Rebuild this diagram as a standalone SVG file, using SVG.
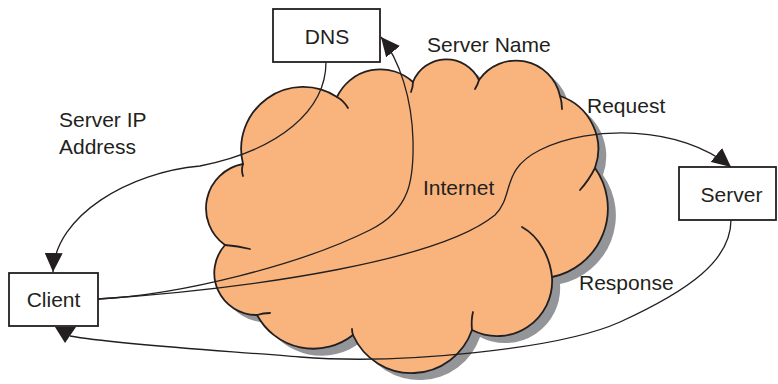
<svg xmlns="http://www.w3.org/2000/svg" width="778" height="384" viewBox="0 0 778 384">
  <style>
    .box { fill: #ffffff; stroke: #231f20; stroke-width: 1.8; }
    .txt { font-family: "Liberation Sans", Arial, sans-serif; font-size: 21px; fill: #231f20; }
    .mid { text-anchor: middle; }
    .cloud { fill: #f8b47c; stroke: #231f20; stroke-width: 1.8; stroke-linejoin: round; }
    .shadow { fill: #939598; }
    .curl { fill: none; stroke: #231f20; stroke-width: 1.8; stroke-linecap: round; }
    .link { fill: none; stroke: #231f20; stroke-width: 1.3; }
    .head { fill: #231f20; }
  </style>
  <defs>
    <marker id="arrow" markerUnits="userSpaceOnUse" markerWidth="20" markerHeight="18" refX="19" refY="9" orient="auto">
      <path d="M0,0 L19,9 L0,18 z" fill="#231f20"/>
    </marker>
    <path id="cloudShape" d="M243,164 A62,62 0 0 1 337,97 A48,48 0 0 1 413,82 A36,36 0 0 1 479,80 A45,45 0 0 1 560,96 A56,56 0 0 1 595,168 A70,70 0 0 1 552,277 A55,55 0 0 1 472,330 A64,64 0 0 1 353,335 A64,64 0 0 1 257,315 A42,42 0 0 1 225,245 A45,45 0 0 1 243,164 Z"/>
  </defs>

  <g id="internet">
    <use href="#cloudShape" class="shadow" transform="translate(8,7)"/>
    <use href="#cloudShape" class="cloud"/>
    <path class="curl" d="M243,164 Q241,170 243,176"/>
    <path class="curl" d="M337,97 Q344,101 348,108"/>
    <path class="curl" d="M413,82 Q413,87 411,92"/>
    <path class="curl" d="M479,80 Q478,84 475,89"/>
    <path class="curl" d="M560,96 Q562,102 562,109"/>
    <path class="curl" d="M595,168 Q589,180 580,190"/>
    <path class="curl" d="M552,277 C550,258 540,237 522,227"/>
    <path class="curl" d="M472,330 Q471,320 473,312"/>
    <path class="curl" d="M353,335 Q352,332 352,329"/>
    <path class="curl" d="M257,315 Q263,313 270,313"/>
    <path class="curl" d="M225,245 Q238,246 250,249"/>
    <text class="txt" x="423" y="195">Internet</text>
  </g>

  <g id="dns">
    <rect class="box" x="273" y="9" width="107" height="53"/>
    <text class="txt mid" x="327" y="44">DNS</text>
  </g>

  <g id="client">
    <rect class="box" x="9" y="273" width="89" height="53"/>
    <text class="txt mid" x="53.5" y="307">Client</text>
  </g>

  <g id="server">
    <rect class="box" x="679" y="167" width="97" height="53"/>
    <text class="txt mid" x="731.5" y="202">Server</text>
  </g>

  <g id="connectors">
    <path class="link" marker-end="url(#arrow)" d="M326,62 C326,110 280,150 200,166 C130,172 55,215 53,272"/>
    <path class="link" marker-end="url(#arrow)" d="M98,299 C180,295 300,265 370,230 C410,210 414,180 413,140 C412,100 400,60 381,37"/>
    <path class="link" marker-end="url(#arrow)" d="M98,299 C260,288 440,260 495,215 C515,195 500,170 540,150 C590,125 680,125 731,167"/>
    <path class="link" d="M731,220 C731,260 690,290 620,322 C560,349 400,365 300,357 C230,351 120,345 70,336"/>
    <polygon class="head" points="55,327 76,327 65,343"/>
    <text class="txt" x="427" y="52">Server Name</text>
    <text class="txt" x="59" y="127">Server IP</text>
    <text class="txt" x="59" y="154">Address</text>
    <text class="txt" x="587" y="113">Request</text>
    <text class="txt" x="579" y="290">Response</text>
  </g>
</svg>
